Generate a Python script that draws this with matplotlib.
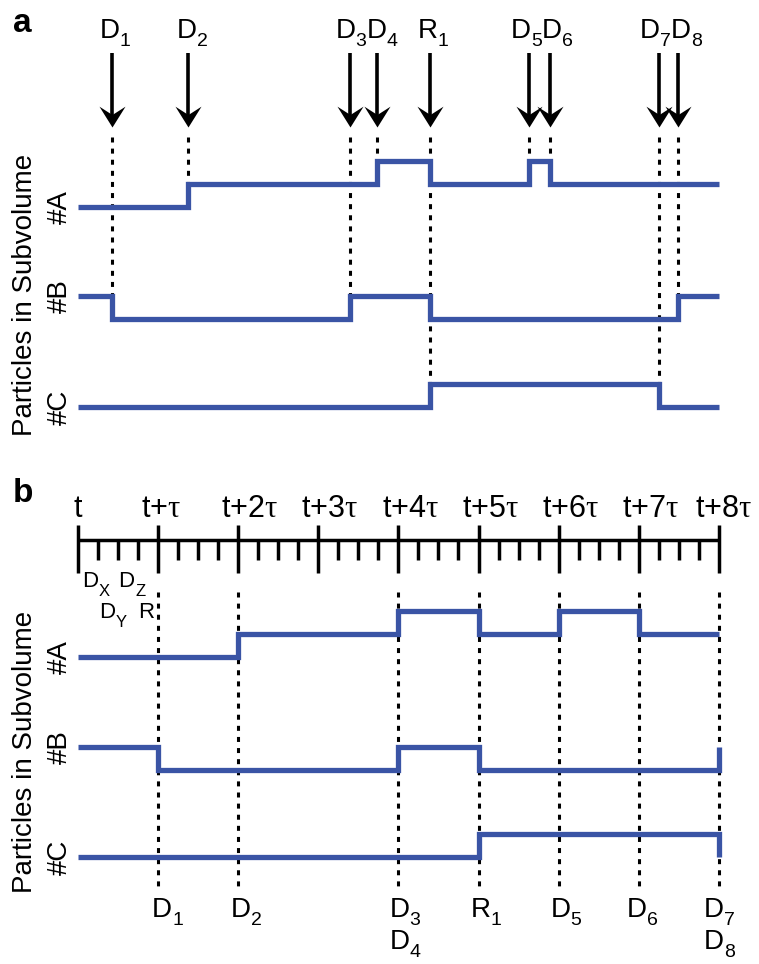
"""
Esquema: trajetória exata (SSA) vs tau-leaping para três espécies A, B, C
num subvolume. Painel a: eventos em tempo contínuo. Painel b: os mesmos
eventos agrupados nos instantes t + k*tau.
"""

import numpy as np
import matplotlib
matplotlib.use("Agg")
import matplotlib.pyplot as plt
from matplotlib.path import Path
from matplotlib.transforms import ScaledTranslation

plt.rcParams["font.family"] = ["Liberation Sans", "DejaVu Sans"]
plt.rcParams["mathtext.fontset"] = "custom"
plt.rcParams["mathtext.rm"] = "Liberation Serif"
plt.rcParams["mathtext.sf"] = "Liberation Sans"
plt.rcParams["mathtext.it"] = "Liberation Sans:italic"
plt.rcParams["mathtext.default"] = "sf"

# ─────────────────────────────── Dados ─────────────────────────────────── #

T_FIM = 8  # fim da janela, em unidades de tau

# painel a — tempos contínuos (unidades de tau)
EVENTOS_A = [("D", "1"), ("D", "2"), ("D", "3"), ("D", "4"), ("R", "1"),
             ("D", "5"), ("D", "6"), ("D", "7"), ("D", "8")]
TEMPOS_A  = [0.42, 1.37, 3.40, 3.73, 4.39, 5.63, 5.89, 7.25, 7.49]
ALVO_A    = ["B", "A", "B", "A", "C", "A", "A", "C", "B"]  # espécie mais baixa afetada

# contagens (degraus): instantes de mudança e número de partículas
A_N = [1, 2, 3, 2, 3, 2]
B_N = [2, 1, 2, 1, 2]
C_N = [0, 1, 0]
A_T_A = [1.37, 3.73, 4.39, 5.63, 5.89]
B_T_A = [0.42, 3.40, 4.39, 7.49]
C_T_A = [4.39, 7.25]

# painel b — tau-leaping
ROTULOS_TAU = ["t", r"t{+}\mathrm{\tau}"] + [rf"t{{+}}{k}\mathrm{{\tau}}" for k in range(2, 9)]
TEMPOS_B  = [1, 2, 4, 5, 6, 7, 8]
EVENTOS_B = [[("D", "1")], [("D", "2")], [("D", "3"), ("D", "4")], [("R", "1")],
             [("D", "5")], [("D", "6")], [("D", "7"), ("D", "8")]]
A_T_B = [2, 4, 5, 6, 7]
B_T_B = [1, 4, 5, 8]
C_T_B = [5, 8]

SUB_EVENTOS = [("D", "X"), ("D", "Y"), ("D", "Z"), ("R", "")]
SUB_POS     = [0.15, 0.36, 0.60, 0.85]
SUB_LINHA   = [0, 1, 0, 1]

# ─────────────────────────────── Estilo ────────────────────────────────── #

AZUL = "#3a54a5"
PX = 23.0           # pixels por partícula
W, H = 759, 964
H_A = 470           # altura do painel a, px
TAU_PX = 80.1
X0_PX = 78

LW_AZUL = 3.8
LW_TRACO = 2.2
TRACOS = (3.6 / LW_TRACO, 4.4 / LW_TRACO)
FS = 20

# offsets das linhas (em unidades de partícula)
OFF_A = {"A": 10.43, "B": 5.565, "C": 2.74}
OFF_B = {"A": 12.35, "B": 7.43, "C": 4.65}

# ajuste horizontal dos rótulos (px), para não encavalar
DX_ROT_A = [-2, -1, -5, 0, -2, -8, 2, -9, 3]
DX_ROT_B = [4, 3, 1, 2, 2, -2, -5]

# ponta de seta côncava
cabeca = Path([(0, 0), (-0.625, 1.0), (0, 0.6), (0.625, 1.0), (0, 0)],
              [Path.MOVETO, Path.LINETO, Path.LINETO, Path.LINETO, Path.CLOSEPOLY])

fig = plt.figure(figsize=(W / 100, H / 100), dpi=100)
xlim = (-X0_PX / TAU_PX, (W - X0_PX) / TAU_PX)

ax_a = fig.add_axes([0, (H - H_A) / H, 1, H_A / H])
ax_a.set_xlim(*xlim)
ax_a.set_ylim(0, H_A / PX)
ax_a.set_axis_off()

ax_b = fig.add_axes([0, 0, 1, (H - H_A) / H])
ax_b.set_xlim(*xlim)
ax_b.set_ylim(0, (H - H_A) / PX)
ax_b.set_axis_off()


def desloc(ax, dx_px, dy_px):
    return ax.transData + ScaledTranslation(dx_px / 100, dy_px / 100, fig.dpi_scale_trans)


def rotulo(ax, x, y, letra, sub, fs=FS, fs_sub=14, dx=0, gap=10, queda=8):
    """Letra centrada em x, índice à direita e abaixo."""
    ax.text(x, y, letra, ha="center", va="baseline", fontsize=fs,
            transform=desloc(ax, dx, 0))
    if sub:
        ax.text(x, y, sub, ha="left", va="baseline", fontsize=fs_sub,
                transform=desloc(ax, dx + gap, -queda))


def degrau(ax, tempos, n, off):
    x = [0] + list(tempos) + [T_FIM]
    y = np.array(list(n) + [n[-1]]) + off
    ax.step(x, y, where="post", color=AZUL, lw=LW_AZUL,
            solid_joinstyle="miter", solid_capstyle="butt", zorder=3)


def contagem(tempos, n, t, lado):
    return n[np.searchsorted(tempos, t, side=lado)]


def y_px(ax_h, px):
    # posição vertical (px a partir do topo do painel) -> unidades do eixo
    return (ax_h - px) / PX


# ───────────────────────────── Painel a ─────────────────────────────────── #

series_a = {"A": (A_T_A, A_N), "B": (B_T_A, B_N), "C": (C_T_A, C_N)}
for esp, (tt, nn) in series_a.items():
    degrau(ax_a, tt, nn, OFF_A[esp])
    ax_a.text(-0.225, OFF_A[esp] + nn[0], f"#{esp}", rotation=90,
              ha="center", va="center", fontsize=FS)

topo_seta = y_px(H_A, 53)
ponta = y_px(H_A, 127)
topo_traco = y_px(H_A, 137)
base_rot = y_px(H_A, 38)

for (letra, sub), t, alvo, dx in zip(EVENTOS_A, TEMPOS_A, ALVO_A, DX_ROT_A):
    tt, nn = series_a[alvo]
    nivel = OFF_A[alvo] + max(contagem(tt, nn, t, "left"), contagem(tt, nn, t, "right"))
    ax_a.plot([t, t], [topo_traco, nivel], color="k", lw=LW_TRACO,
              dashes=TRACOS, zorder=2)
    ax_a.plot([t, t], [topo_seta, ponta + 0.4], color="k", lw=2.6,
              solid_capstyle="butt")
    ax_a.plot([t], [ponta], marker=cabeca, ms=30, color="k", mew=0)
    rotulo(ax_a, t, base_rot, letra, sub, dx=dx)

ax_a.text(-0.66, y_px(H_A, 295), "Particles in Subvolume", rotation=90,
          ha="center", va="center", fontsize=FS)
ax_a.text(-0.81, y_px(H_A, 32), "a", fontweight="bold", fontsize=24,
          ha="left", va="baseline")

# ───────────────────────────── Painel b ─────────────────────────────────── #

HB = H - H_A
y_eixo = y_px(HB, 540 - H_A)
ax_b.plot([0, T_FIM], [y_eixo, y_eixo], color="k", lw=2.5, solid_capstyle="butt")
maiores = np.arange(T_FIM + 1)
menores = [k + q / 4 for k in range(T_FIM) for q in (1, 2, 3)]
ax_b.vlines(maiores, y_px(HB, 573 - H_A), y_px(HB, 525 - H_A), color="k", lw=2.5)
ax_b.vlines(menores, y_px(HB, 560 - H_A), y_eixo, color="k", lw=2.5)

for k, rot in enumerate(ROTULOS_TAU):
    if k == 0:
        ax_b.text(k, y_px(HB, 517 - H_A), f"${rot}$", ha="center",
                  va="baseline", fontsize=22)
    else:
        dx = -0.30 if k == T_FIM else -0.21
        ax_b.text(k + dx, y_px(HB, 517 - H_A), f"${rot}$", ha="left",
                  va="baseline", fontsize=22)

for (letra, sub), x, linha in zip(SUB_EVENTOS, SUB_POS, SUB_LINHA):
    rotulo(ax_b, x, y_px(HB, (587, 618)[linha] - H_A), letra, sub,
           fs=16, fs_sub=12, gap=9, queda=9)

series_b = {"A": (A_T_B, A_N), "B": (B_T_B, B_N), "C": (C_T_B, C_N)}
for esp, (tt, nn) in series_b.items():
    degrau(ax_b, tt, nn, OFF_B[esp])
    ax_b.text(-0.225, OFF_B[esp] + nn[0], f"#{esp}", rotation=90,
              ha="center", va="center", fontsize=FS)

for t, nomes, dx in zip(TEMPOS_B, EVENTOS_B, DX_ROT_B):
    ax_b.plot([t, t], [y_px(HB, 592 - H_A), y_px(HB, 888 - H_A)], color="k",
              lw=LW_TRACO, dashes=TRACOS, zorder=2)
    for i, (letra, sub) in enumerate(nomes):
        rotulo(ax_b, t, y_px(HB, (917, 949)[i] - H_A), letra, sub, dx=dx, queda=8)

ax_b.text(-0.66, y_px(HB, 752 - H_A), "Particles in Subvolume", rotation=90,
          ha="center", va="center", fontsize=FS)
ax_b.text(-0.81, y_px(HB, 502 - H_A), "b", fontweight="bold", fontsize=24,
          ha="left", va="baseline")

fig.savefig("out.png", dpi=100)
